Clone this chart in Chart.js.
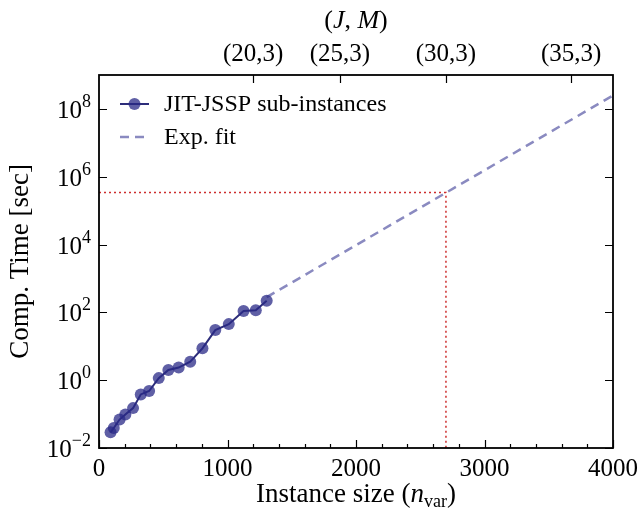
<!DOCTYPE html>
<html>
<head>
<meta charset="utf-8">
<script src="https://cdn.jsdelivr.net/npm/chart.js@4/dist/chart.umd.min.js"></script>
<style>
  html, body { margin: 0; padding: 0; background: #ffffff; }
  #wrap { width: 640px; height: 513px; position: relative; }
</style>
</head>
<body>
<div id="wrap"><canvas id="chart"></canvas></div>
<script>
// Measured run times of the JIT-JSSP sub-instances
const instanceSize = [90, 115, 160, 205, 265, 325, 390, 465, 540, 620, 710, 805, 905, 1010, 1125, 1220, 1305];
const compTime     = [0.029, 0.039, 0.069, 0.098, 0.15, 0.38, 0.48, 1.15, 2.0, 2.35, 3.5, 8.7, 30, 45, 110, 115, 220];

// Exponential fit (a straight line on the log axis), end points
const fitSize = [1305, 4000];
const fitTime = [280, 2.5e8];

// Guide lines marking the (30,3) instance
const guideSize = [0, 2700, 2700];
const guideTime = [3.4e5, 3.4e5, 0.01];

// Axis ticks
const xTickValues   = [0, 1000, 2000, 3000, 4000];
const xMinorStep    = 200;
const yTickPowers   = [-2, 0, 2, 4, 6, 8];
const topTickSizes  = [1200, 1875, 2700, 3675];
const topTickLabels = ['(20,3)', '(25,3)', '(30,3)', '(35,3)'];

const FONT = "'Liberation Serif', 'DejaVu Serif', serif";
const NAVY_LINE = 'rgb(45, 45, 122)';
const NAVY_DOT = 'rgba(42, 42, 135, 0.75)';
const FIT_COLOR = 'rgb(138, 138, 192)';
const GUIDE_COLOR = 'rgb(205, 45, 45)';

const toPoints = (xs, ys) => xs.map((x, i) => ({ x: x, y: ys[i] }));

// Frame, inward tick marks, exponent labels, titles and legend
const decorations = {
  id: 'decorations',
  afterDraw(chart) {
    const ctx = chart.ctx;
    const a = chart.chartArea;
    const sx = chart.scales.x;
    const sy = chart.scales.y;
    ctx.save();

    // frame
    ctx.strokeStyle = '#000';
    ctx.lineWidth = 1.8;
    ctx.strokeRect(a.left, a.top, a.right - a.left, a.bottom - a.top);

    // bottom ticks, major and minor
    ctx.lineWidth = 1.2;
    ctx.beginPath();
    for (let v = 0; v <= 4000; v += xMinorStep) {
      const px = Math.round(sx.getPixelForValue(v)) + 0.5;
      const len = xTickValues.includes(v) ? 8 : 4;
      ctx.moveTo(px, a.bottom);
      ctx.lineTo(px, a.bottom - len);
    }
    // top ticks at (J,M) positions
    topTickSizes.forEach(v => {
      const px = Math.round(sx.getPixelForValue(v)) + 0.5;
      ctx.moveTo(px, a.top);
      ctx.lineTo(px, a.top + 8);
    });
    // left and right ticks at decades
    yTickPowers.forEach(p => {
      const py = Math.round(sy.getPixelForValue(Math.pow(10, p))) + 0.5;
      ctx.moveTo(a.left, py);
      ctx.lineTo(a.left + 8, py);
      ctx.moveTo(a.right, py);
      ctx.lineTo(a.right - 8, py);
    });
    ctx.stroke();

    // y tick labels: 10 with raised exponent
    ctx.fillStyle = '#000';
    ctx.textBaseline = 'alphabetic';
    yTickPowers.forEach(p => {
      const py = sy.getPixelForValue(Math.pow(10, p));
      const expText = p < 0 ? '\u2212' + Math.abs(p) : String(p);
      ctx.font = '18px ' + FONT;
      const ew = ctx.measureText(expText).width;
      ctx.font = '25px ' + FONT;
      const bw = ctx.measureText('10').width;
      const right = a.left - 8;
      ctx.textAlign = 'left';
      ctx.fillText('10', right - ew - bw, py + 9);
      ctx.font = '18px ' + FONT;
      ctx.fillText(expText, right - ew, py - 2);
    });

    // x title: Instance size (n_var)
    const xt = [
      { t: 'Instance size (', f: '27px ' + FONT, dy: 0 },
      { t: 'n', f: 'italic 27px ' + FONT, dy: 0 },
      { t: 'var', f: '18px ' + FONT, dy: 5 },
      { t: ')', f: '27px ' + FONT, dy: 0 }
    ];
    drawRuns(ctx, xt, (a.left + a.right) / 2, 502);

    // top title: (J, M)
    const tt = [
      { t: '(', f: '26px ' + FONT, dy: 0 },
      { t: 'J', f: 'italic 26px ' + FONT, dy: 0 },
      { t: ', ', f: '26px ' + FONT, dy: 0 },
      { t: 'M', f: 'italic 26px ' + FONT, dy: 0 },
      { t: ')', f: '26px ' + FONT, dy: 0 }
    ];
    drawRuns(ctx, tt, (a.left + a.right) / 2, 28);

    // legend
    const lx0 = a.left + 21, lx1 = a.left + 50, tx = a.left + 65;
    const r1 = a.top + 29, r2 = a.top + 62;
    ctx.strokeStyle = NAVY_LINE;
    ctx.lineWidth = 2;
    ctx.setLineDash([]);
    ctx.beginPath();
    ctx.moveTo(lx0, r1); ctx.lineTo(lx1, r1);
    ctx.stroke();
    ctx.fillStyle = NAVY_DOT;
    ctx.beginPath();
    ctx.arc((lx0 + lx1) / 2, r1, 6, 0, Math.PI * 2);
    ctx.fill();
    ctx.strokeStyle = FIT_COLOR;
    ctx.lineWidth = 2.5;
    ctx.setLineDash([9, 6]);
    ctx.beginPath();
    ctx.moveTo(lx0, r2); ctx.lineTo(lx1, r2);
    ctx.stroke();
    ctx.setLineDash([]);
    ctx.fillStyle = '#000';
    ctx.font = '24px ' + FONT;
    ctx.textAlign = 'left';
    ctx.textBaseline = 'middle';
    ctx.fillText('JIT-JSSP sub-instances', tx, r1 + 1);
    ctx.fillText('Exp. fit', tx, r2 + 1);

    ctx.restore();
  }
};

function drawRuns(ctx, runs, cx, baseline) {
  ctx.textBaseline = 'alphabetic';
  ctx.textAlign = 'left';
  let total = 0;
  runs.forEach(r => { ctx.font = r.f; r.w = ctx.measureText(r.t).width; total += r.w; });
  let x = cx - total / 2;
  ctx.fillStyle = '#000';
  runs.forEach(r => { ctx.font = r.f; ctx.fillText(r.t, x, baseline + r.dy); x += r.w; });
}

const fitHorizontal = height => s => {
  s.height = height;
  s.paddingLeft = 0;
  s.paddingRight = 0;
};

new Chart(document.getElementById('chart'), {
  type: 'line',
  data: {
    datasets: [
      {
        label: 'JIT-JSSP sub-instances',
        data: toPoints(instanceSize, compTime),
        borderColor: NAVY_LINE,
        borderWidth: 2,
        pointRadius: 6,
        pointBorderWidth: 0,
        pointBackgroundColor: NAVY_DOT,
        pointHoverRadius: 6,
        order: 1
      },
      {
        label: 'Exp. fit',
        data: toPoints(fitSize, fitTime),
        borderColor: FIT_COLOR,
        borderWidth: 2.5,
        borderDash: [9, 6],
        pointRadius: 0,
        order: 2
      },
      {
        label: 'guide',
        data: toPoints(guideSize, guideTime),
        borderColor: GUIDE_COLOR,
        borderWidth: 1.5,
        borderDash: [2, 3],
        pointRadius: 0,
        order: 3
      }
    ]
  },
  options: {
    responsive: true,
    maintainAspectRatio: false,
    animation: false,
    layout: { padding: { left: 0, right: 27, top: 0, bottom: 0 } },
    plugins: { legend: { display: false }, tooltip: { enabled: false } },
    scales: {
      x: {
        type: 'linear',
        position: 'bottom',
        min: 0,
        max: 4000,
        afterBuildTicks: s => { s.ticks = xTickValues.map(v => ({ value: v })); },
        afterFit: fitHorizontal(65),
        grid: { display: false, drawTicks: false },
        border: { display: false },
        ticks: {
          autoSkip: false,
          maxRotation: 0,
          padding: 6,
          color: '#000',
          font: { family: FONT, size: 25 },
          callback: v => String(v)
        }
      },
      x2: {
        type: 'linear',
        position: 'top',
        min: 0,
        max: 4000,
        afterBuildTicks: s => { s.ticks = topTickSizes.map(v => ({ value: v })); },
        afterFit: fitHorizontal(75),
        grid: { display: false, drawTicks: false },
        border: { display: false },
        ticks: {
          autoSkip: false,
          maxRotation: 0,
          padding: 6,
          color: '#000',
          font: { family: FONT, size: 25 },
          callback: (v, i) => topTickLabels[i]
        }
      },
      y: {
        type: 'logarithmic',
        min: 0.01,
        max: 1e9,
        afterBuildTicks: s => { s.ticks = yTickPowers.map(p => ({ value: Math.pow(10, p) })); },
        afterFit: s => { s.width = 99; s.paddingTop = 0; s.paddingBottom = 0; },
        grid: { display: false, drawTicks: false },
        border: { display: false },
        ticks: { display: false },
        title: {
          display: true,
          text: 'Comp. Time [sec]',
          color: '#000',
          font: { family: FONT, size: 27 },
          padding: { top: 5, bottom: 0 }
        }
      }
    }
  },
  plugins: [decorations]
});
</script>
</body>
</html>
